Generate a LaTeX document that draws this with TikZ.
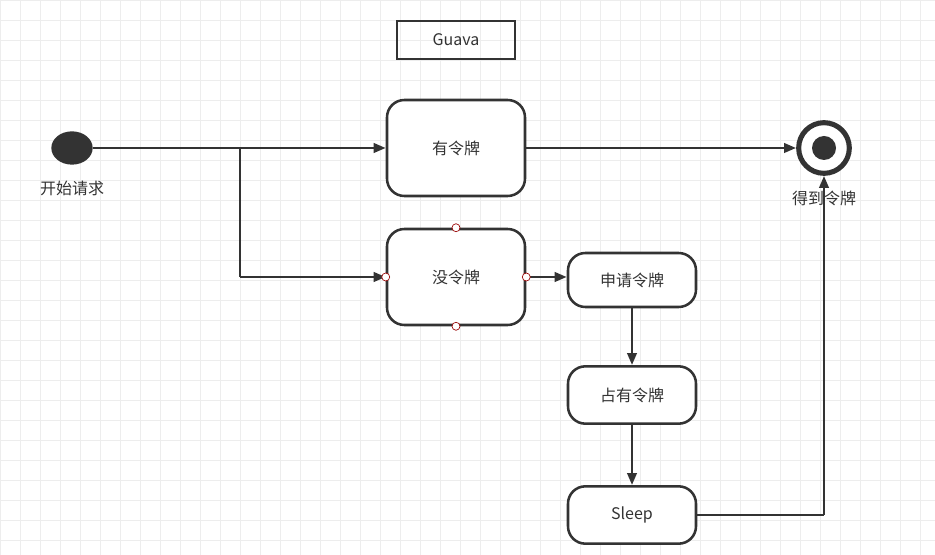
\documentclass[tikz,border=0pt]{standalone}
\usepackage{fontspec}
\setmainfont{Noto Sans CJK SC}
\usetikzlibrary{arrows.meta,shapes.geometric}
\definecolor{ink}{HTML}{333333}
\begin{document}
\begin{tikzpicture}[x=0.75pt,y=-0.75pt,
  st/.style={draw=ink,line width=1.9pt,rounded corners=13pt,fill=white,font=\fontsize{12}{14}\selectfont,text=ink},
  ln/.style={draw=ink,line width=2pt},
  ar/.style={ln,-{Triangle[length=9pt,width=7pt]}},
  pt/.style={circle,draw=red!60!black,fill=white,inner sep=0pt,minimum size=6pt,line width=0.5pt},
  lab/.style={font=\fontsize{12}{14}\selectfont,text=ink}]
\useasboundingbox (0,0) rectangle (935,555);
\fill[white] (0,0) rectangle (935,555);
\foreach \i in {0,20,...,940} \draw[gray!14,line width=0.4pt] (\i,0) -- (\i,555);
\foreach \i in {0,20,...,560} \draw[gray!14,line width=0.4pt] (0,\i) -- (935,\i);
\node[draw=ink,line width=1.5pt,minimum width=88.5pt,minimum height=29pt,lab] (g) at (456,40) {Guava};
\node[ellipse,fill=ink,minimum width=31pt,minimum height=25pt,inner sep=0pt] (s) at (72,148) {};
\node[lab] (sl) at (72,188) {开始请求};
\node[st,minimum width=103.5pt,minimum height=72pt] (y) at (456,148) {有令牌};
\node[st,minimum width=103.5pt,minimum height=72pt] (n) at (456,277) {没令牌};
\node[st,minimum width=96pt,minimum height=40.5pt] (a) at (632,280) {申请令牌};
\node[st,minimum width=96pt,minimum height=43pt] (b) at (632,395) {占有令牌};
\node[st,minimum width=96pt,minimum height=43pt] (c) at (632,515) {Sleep};
\node[circle,draw=ink,line width=3.8pt,fill=white,minimum size=38pt,inner sep=0pt] (e) at (824,148) {};
\node[circle,fill=ink,minimum size=18pt,inner sep=0pt] (ei) at (824,148) {};
\node[lab] (el) at (824,198) {得到令牌};
\coordinate (j) at (240,148);
\coordinate (k) at (240,277);
\coordinate (m) at (824,515);
\draw[ar] (s.east) -- (y.west);
\draw[ln] (j) -- (k);
\draw[ar] (k) -- (n.west);
\draw[ar] (y.east) -- (e.west);
\draw[ar] (n.east) -- (a.west|-n.east);
\draw[ar] (a.south) -- (b.north);
\draw[ar] (b.south) -- (c.north);
\draw[ln] (c.east) -- (m);
\draw[ar] (m) -- (e.south);
\node[pt] (p1) at (n.north) {};
\node[pt] (p2) at (n.south) {};
\node[pt] (p3) at (n.west) {};
\node[pt] (p4) at (n.east) {};
\end{tikzpicture}
\end{document}
